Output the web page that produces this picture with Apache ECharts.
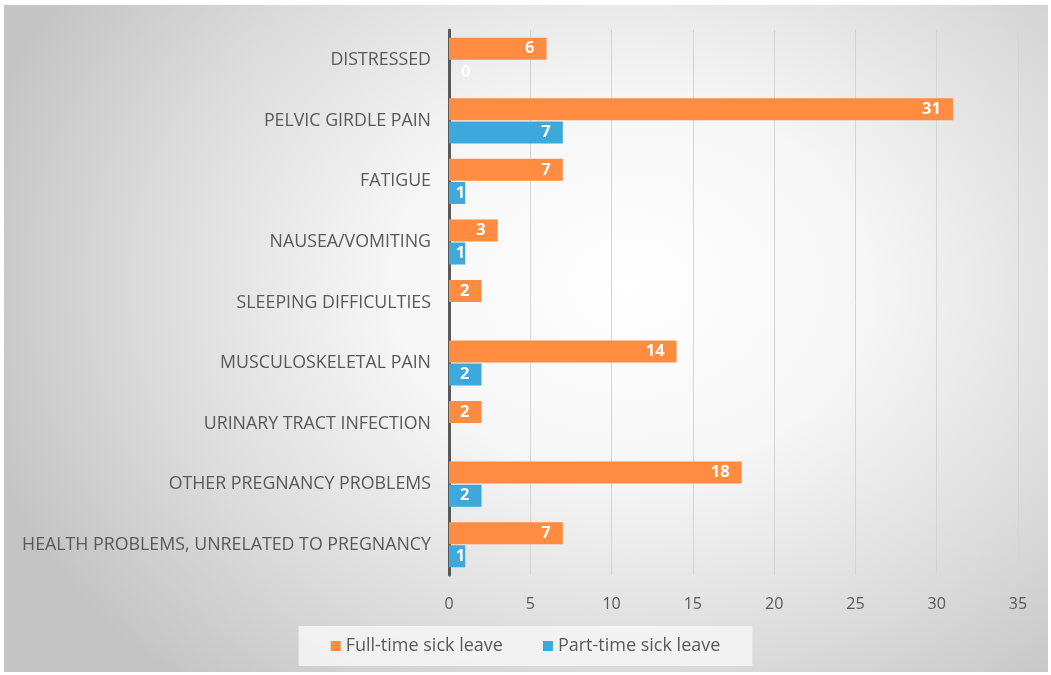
<!DOCTYPE html>
<html>
<head>
<meta charset="utf-8">
<script src="https://cdn.jsdelivr.net/npm/echarts@6/dist/echarts.min.js"></script>
<style>
html,body{margin:0;padding:0;background:#ffffff;}
#frame{position:absolute;left:4px;top:5px;width:1044px;height:667px;
 background:radial-gradient(ellipse 65% 80% at 60% 42%, #ffffff 0%, #f6f6f6 35%, #dcdcdc 70%, #c4c4c4 100%);}
#chart{position:absolute;left:-4px;top:-5px;width:1051px;height:675px;}
</style>
</head>
<body>
<div id="frame"><div id="chart"></div></div>
<script>
const categories = [
  'DISTRESSED',
  'PELVIC GIRDLE PAIN',
  'FATIGUE',
  'NAUSEA/VOMITING',
  'SLEEPING DIFFICULTIES',
  'MUSCULOSKELETAL PAIN',
  'URINARY TRACT INFECTION',
  'OTHER PREGNANCY PROBLEMS',
  'HEALTH PROBLEMS, UNRELATED TO PREGNANCY'
];
const fullTime = [6, 31, 7, 3, 2, 14, 2, 18, 7];
const partTime = [0, 7, 1, 1, null, 2, null, 2, 1];
const xTicks = [0, 5, 10, 15, 20, 25, 30, 35];
const seriesNames = ['Full-time sick leave', 'Part-time sick leave'];

const textColor = '#595959';
const fontFam = '"Open Sans", "Liberation Sans", sans-serif';

function toData(arr) {
  return arr.map(v => {
    if (v === null) return '-';
    if (v === 0) return { value: v, label: { position: 'insideLeft', distance: 12 } };
    if (v === 1) return { value: v, label: { distance: 0 } };
    return v;
  });
}

const barLabel = {
  show: true,
  position: 'insideRight',
  distance: 12,
  color: '#ffffff',
  fontWeight: 'bold',
  fontSize: 16.5,
  fontFamily: fontFam
};

const chart = echarts.init(document.getElementById('chart'), null, { renderer: 'canvas' });
chart.setOption({
  backgroundColor: 'transparent',
  animation: false,
  grid: { left: 449, right: 33, top: 30, bottom: 100, containLabel: false },
  legend: {
    bottom: 9,
    left: 'center',
    itemWidth: 10,
    itemHeight: 10,
    itemGap: 40,
    padding: [11, 32, 11, 32],
    backgroundColor: 'rgba(246,246,246,0.85)',
    icon: 'rect',
    textStyle: { color: textColor, fontSize: 18, fontFamily: fontFam },
    data: seriesNames
  },
  xAxis: {
    type: 'value',
    min: xTicks[0],
    max: xTicks[xTicks.length - 1],
    interval: 5,
    axisLine: { show: false },
    axisTick: { show: false },
    splitLine: { show: true, lineStyle: { color: '#d4d4d4', width: 1 } },
    axisLabel: { color: textColor, fontSize: 16, fontFamily: fontFam, margin: 21 }
  },
  yAxis: {
    type: 'category',
    inverse: true,
    data: categories,
    axisLine: { show: true, lineStyle: { color: '#595959', width: 3 } },
    axisTick: { show: false },
    axisLabel: { color: textColor, fontSize: 17.8, fontFamily: fontFam, margin: 18 }
  },
  series: [
    {
      name: seriesNames[0],
      type: 'bar',
      data: toData(fullTime),
      barWidth: 22,
      barGap: '5%',
      itemStyle: { color: '#ff8c40' },
      label: barLabel
    },
    {
      name: seriesNames[1],
      type: 'bar',
      data: toData(partTime),
      barWidth: 22,
      barGap: '5%',
      itemStyle: { color: '#3ca8dc' },
      label: barLabel
    }
  ]
});
</script>
</body>
</html>
